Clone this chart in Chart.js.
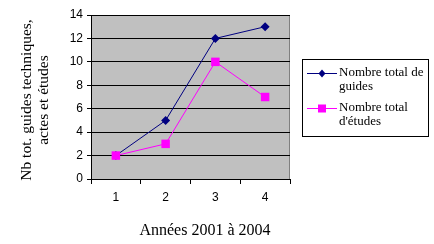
<!DOCTYPE html>
<html>
<head>
<meta charset="utf-8">
<script src="https://cdn.jsdelivr.net/npm/chart.js@4"></script>
<style>
  html, body { margin: 0; padding: 0; background: #fff; }
  #wrap { width: 434px; height: 244px; position: relative; }
</style>
</head>
<body>
<div id="wrap"><canvas id="chart"></canvas></div>
<script>
// Data
const years = ['1', '2', '3', '4'];
const guides = [2, 5, 12, 13];
const etudes = [2, 3, 10, 7];
const seriesLabels = [['Nombre total de', 'guides'], ['Nombre total', "d'études"]];
const yTitle = ['Nb tot. guides techniques,', 'actes et études'];
const xTitle = 'Années 2001 à 2004';

const SERIF = '"Liberation Serif", "DejaVu Serif", serif';
const SANS = '"Liberation Sans", Arial, sans-serif';

// gray plot area + frame
const plotFrame = {
  id: 'plotFrame',
  beforeDraw(chart) {
    const { ctx, chartArea: a } = chart;
    ctx.save();
    ctx.fillStyle = '#c0c0c0';
    ctx.fillRect(a.left, a.top, a.right - a.left, a.bottom - a.top);
    ctx.strokeStyle = '#808080';
    ctx.lineWidth = 1;
    ctx.beginPath();
    ctx.moveTo(a.left, a.top + 0.5);
    ctx.lineTo(a.right - 0.5, a.top + 0.5);
    ctx.lineTo(a.right - 0.5, a.bottom);
    ctx.stroke();
    ctx.restore();
  }
};

// titles and legend box
const extras = {
  id: 'extras',
  afterDraw(chart) {
    const { ctx } = chart;
    ctx.save();
    ctx.fillStyle = '#000';
    ctx.font = '16px ' + SERIF;
    ctx.textAlign = 'center';
    ctx.textBaseline = 'middle';
    ctx.fillText(xTitle, 205, 231);

    ctx.font = '15.5px ' + SERIF;
    ctx.translate(35, 100);
    ctx.rotate(-Math.PI / 2);
    ctx.fillText(yTitle[0], 0, -8);
    ctx.fillText(yTitle[1], 0, 9);
    ctx.restore();

    // legend
    ctx.save();
    ctx.strokeStyle = '#000';
    ctx.lineWidth = 1;
    ctx.strokeRect(302.5, 59.5, 126, 77);
    ctx.font = '13px ' + SERIF;
    ctx.textAlign = 'left';
    ctx.textBaseline = 'middle';
    const rows = [73, 108];
    chart.data.datasets.forEach((ds, i) => {
      const y = rows[i];
      ctx.strokeStyle = ds.borderColor;
      ctx.lineWidth = 1;
      ctx.beginPath();
      ctx.moveTo(307, y + 0.5);
      ctx.lineTo(337, y + 0.5);
      ctx.stroke();
      ctx.fillStyle = ds.backgroundColor;
      if (ds.pointStyle === 'rectRot') {
        ctx.beginPath();
        ctx.moveTo(322, y - 3.5);
        ctx.lineTo(325.5, y + 0.5);
        ctx.lineTo(322, y + 4.5);
        ctx.lineTo(318.5, y + 0.5);
        ctx.closePath();
        ctx.fill();
      } else {
        ctx.fillRect(318, y - 3.5, 8, 8);
      }
      ctx.fillStyle = '#000';
      seriesLabels[i].forEach((t, j) => ctx.fillText(t, 339, y + j * 14));
    });
    ctx.restore();
  }
};

new Chart(document.getElementById('chart'), {
  type: 'line',
  data: {
    labels: years,
    datasets: [
      {
        label: seriesLabels[0].join(' '),
        data: guides,
        order: 1,
        borderColor: '#000080',
        backgroundColor: '#000080',
        borderWidth: 1,
        pointStyle: 'rectRot',
        pointRadius: 4.5,
        pointBorderWidth: 0,
        tension: 0
      },
      {
        label: seriesLabels[1].join(' '),
        data: etudes,
        order: 0,
        borderColor: '#ff00ff',
        backgroundColor: '#ff00ff',
        borderWidth: 1,
        pointStyle: 'rect',
        pointRadius: 6,
        pointBorderWidth: 0,
        tension: 0
      }
    ]
  },
  options: {
    responsive: true,
    maintainAspectRatio: false,
    animation: false,
    events: [],
    layout: { padding: { left: 0, top: 15, right: 144, bottom: 0 } },
    plugins: {
      legend: { display: false },
      tooltip: { enabled: false }
    },
    scales: {
      x: {
        offset: true,
        afterFit: (s) => { s.height = 65; },
        grid: {
          offset: true,
          drawOnChartArea: false,
          color: '#000',
          tickLength: 5
        },
        border: { color: '#000', width: 1 },
        ticks: {
          color: '#000',
          padding: 6,
          font: { family: SANS, size: 12 }
        }
      },
      y: {
        min: 0,
        max: 14,
        afterFit: (s) => { s.width = 91; },
        grid: {
          color: '#000',
          tickLength: 4
        },
        border: { color: '#000', width: 1 },
        ticks: {
          stepSize: 2,
          color: '#000',
          padding: 4,
          font: { family: SANS, size: 12 }
        }
      }
    }
  },
  plugins: [plotFrame, extras]
});
</script>
</body>
</html>
